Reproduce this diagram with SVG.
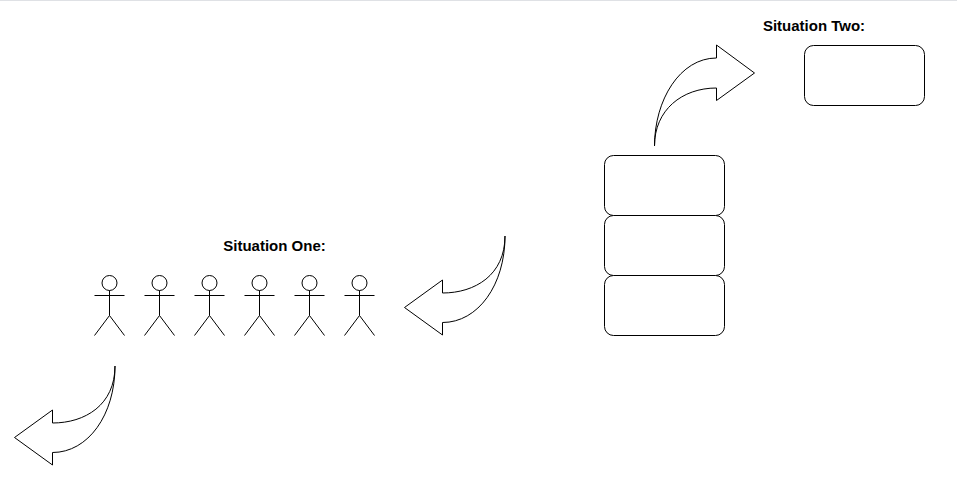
<svg xmlns="http://www.w3.org/2000/svg" width="957" height="498" viewBox="0 0 957 498">
<style>
.s{fill:#fff;stroke:#000;stroke-width:1;stroke-miterlimit:10}
.l{fill:none;stroke:#000;stroke-width:1}
.t{font-family:"Liberation Sans",Arial,sans-serif;font-size:15px;font-weight:bold;fill:#000;text-anchor:middle}
</style>
<defs>
<g id="actor"><circle class="s" cx="0" cy="7.500" r="7.500"/><path class="l" d="M0 15V40M-15 20H15M0 40L-15 60M0 40L15 60"/></g>
<path id="ldown" class="s" d="M505 236C505 275 475 293 442.500 293V280L404.500 307.500L442.500 335V322.500C478 322.500 505 285 505 236Z"/>
</defs>
<rect width="957" height="498" fill="#fff"/>
<rect width="957" height="1" fill="#dfe1e5"/>
<g id="connectors">
<path id="arrow-up" class="s" d="M654.500 146C654.500 100 680 58 716.500 58V45L754.500 73L716.500 100.500V88C682 88 654.500 110 654.500 146Z"/>
<use id="arrow-mid" href="#ldown"/>
<use id="arrow-low" href="#ldown" x="-390" y="130"/>
</g>
<g id="box-1"><rect class="s" x="604.500" y="155.500" width="120" height="60" rx="9" ry="9"/></g>
<g id="box-2"><rect class="s" x="604.500" y="215.500" width="120" height="60" rx="9" ry="9"/></g>
<g id="box-3"><rect class="s" x="604.500" y="275.500" width="120" height="60" rx="9" ry="9"/></g>
<g id="box-4"><rect class="s" x="804.500" y="45.500" width="120" height="60" rx="9" ry="9"/></g>
<g id="actor-1"><use href="#actor" x="109.500" y="275.500"/></g>
<g id="actor-2"><use href="#actor" x="159.500" y="275.500"/></g>
<g id="actor-3"><use href="#actor" x="209.500" y="275.500"/></g>
<g id="actor-4"><use href="#actor" x="259.500" y="275.500"/></g>
<g id="actor-5"><use href="#actor" x="309.500" y="275.500"/></g>
<g id="actor-6"><use href="#actor" x="359.500" y="275.500"/></g>
<g id="label-one"><text class="t" x="274.500" y="251">Situation One:</text></g>
<g id="label-two"><text class="t" x="814" y="31">Situation Two:</text></g>
</svg>
